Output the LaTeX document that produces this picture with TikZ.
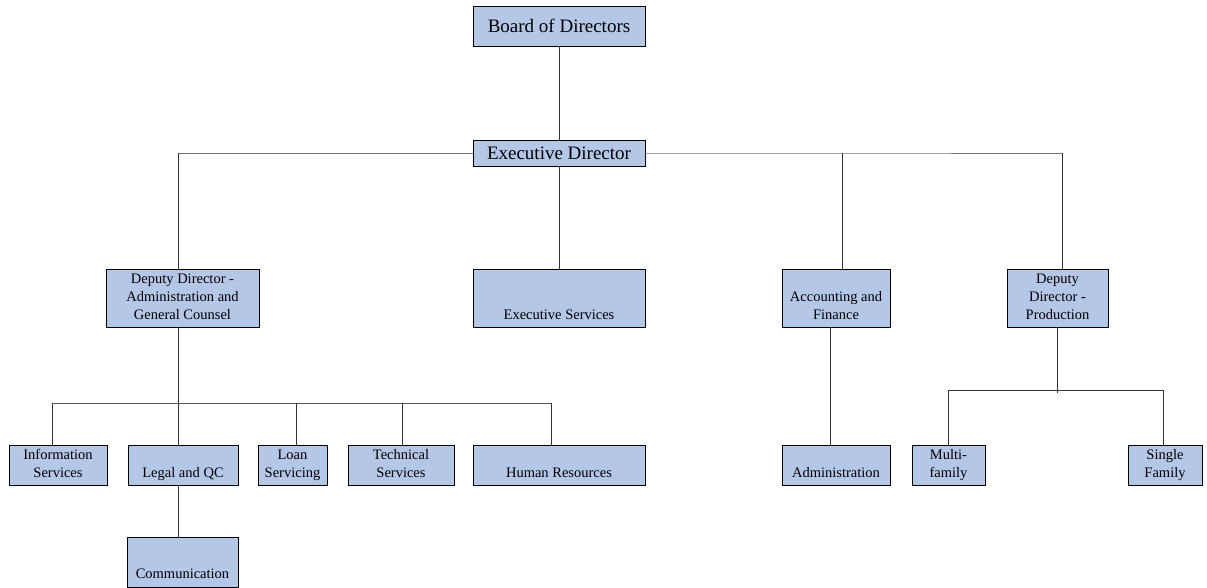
\documentclass[tikz,border=0pt]{standalone}
\usepackage{fontspec}
\setmainfont{Liberation Serif}
\definecolor{boxblue}{HTML}{B4C7E7}
\tikzstyle{office}=[rectangle, draw, fill=boxblue, line width=0.8pt, inner sep=0pt, align=center, font=\fontsize{14.5}{18.3}\selectfont]
\tikzstyle{topoffice}=[office, font=\fontsize{19}{22}\selectfont]
\tikzstyle{wire}=[line width=0.9pt, black!80]
\newcommand{\office}{\node[office]}
\newcommand{\topoffice}{\node[topoffice]}

\begin{document}
\begin{tikzpicture}[x=1pt, y=-1pt]
\useasboundingbox (0,0) rectangle (1207,588);
% top of the chart
\topoffice (board) at (559,26)[minimum width=172pt, minimum height=40pt]{Board of Directors};
\topoffice (exec) at (559,153)[minimum width=172pt, minimum height=26pt]{Executive Director};
% second level
\office (depadm) at (182.5,298)[minimum width=153pt, minimum height=58pt]{\strut Deputy Director -\\\strut Administration and\\\strut General Counsel};
\office (execsvc) at (559,298)[minimum width=172pt, minimum height=58pt]{\strut\\\strut\\\strut Executive Services};
\office (acct) at (836,298)[minimum width=108pt, minimum height=58pt]{\strut\\\strut Accounting and\\\strut Finance};
\office (depprod) at (1057.5,298)[minimum width=101pt, minimum height=58pt]{\strut Deputy\\\strut Director -\\\strut Production};
% third level
\office (info) at (58,465)[minimum width=98pt, minimum height=40pt]{\strut Information\\\strut Services};
\office (legal) at (183,465)[minimum width=110pt, minimum height=40pt]{\strut\\\strut Legal and QC};
\office (loan) at (292.5,465)[minimum width=69pt, minimum height=40pt]{\strut Loan\\\strut Servicing};
\office (tech) at (401,465)[minimum width=106pt, minimum height=40pt]{\strut Technical\\\strut Services};
\office (hr) at (559,465)[minimum width=172pt, minimum height=40pt]{\strut\\\strut Human Resources};
\office (admin) at (836,465)[minimum width=108pt, minimum height=40pt]{\strut\\\strut Administration};
\office (multi) at (948.5,465)[minimum width=73pt, minimum height=40pt]{\strut Multi-\\\strut family};
\office (single) at (1165,465)[minimum width=74pt, minimum height=40pt]{\strut Single\\\strut Family};
\office (comm) at (182.5,562)[minimum width=111pt, minimum height=50pt]{\strut\\[7pt]\strut Communication};
% bus points
\coordinate (eL) at (178,153);
\coordinate (eA) at (842,153);
\coordinate (eR) at (1062,153);
\coordinate (aJ) at (178,403);
\coordinate (aL) at (52,403);
\coordinate (aLoan) at (296,403);
\coordinate (aTech) at (402,403);
\coordinate (aR) at (551,403);
\coordinate (fJ) at (830,400);
\coordinate (pJ) at (1057,390);
\coordinate (pL) at (948,390);
\coordinate (pR) at (1163,390);
% connectors
\draw[wire] (board)--(exec);
\draw[wire, black!55] (eL)--(exec.west) (exec.east)--(eA)--(eR);
\draw[wire] (eL)--(eL |- depadm.north) (eA)--(eA |- acct.north) (eR)--(eR |- depprod.north);
\draw[wire] (exec)--(execsvc);
\draw[wire] (depadm.south -| aJ)--(aJ |- legal.north);
\draw[wire, black!65] (aL)--(aR);
\draw[wire] (aL)--(aL |- info.north) (aLoan)--(aLoan |- loan.north) (aTech)--(aTech |- tech.north) (aR)--(aR |- hr.north);
\draw[wire] (legal.south -| aJ)--(aJ |- comm.north);
\draw[wire] (acct.south -| fJ)--(fJ |- admin.north);
\draw[wire] (depprod.south -| pJ)--([yshift=-3pt]pJ);
\draw[wire] (pL)--(pR);
\draw[wire] (pL)--(pL |- multi.north) (pR)--(pR |- single.north);
\end{tikzpicture}
\end{document}
